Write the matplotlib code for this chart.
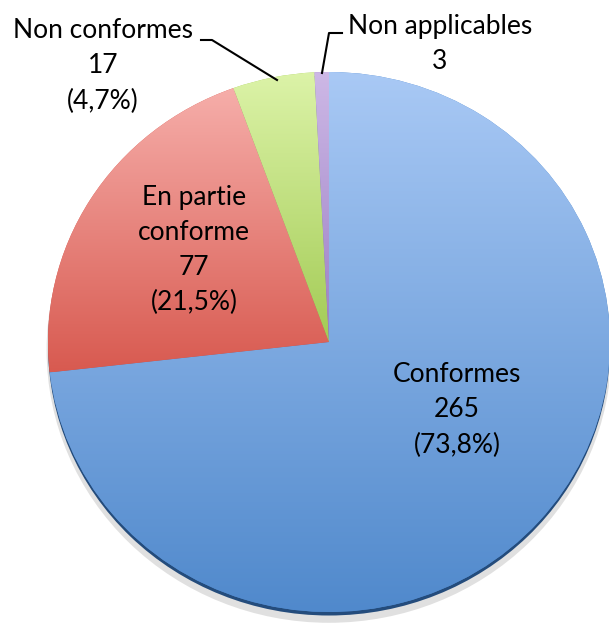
import numpy as np
import matplotlib
matplotlib.use('Agg')
import matplotlib.pyplot as plt
from matplotlib.colors import LinearSegmentedColormap
from matplotlib.patches import Ellipse

# Données
categories = ['Conformes', 'En partie\nconforme', 'Non conformes', 'Non applicables']
valeurs = [265, 77, 17, 3]
pourcentages = ['(73,8%)', '(21,5%)', '(4,7%)', None]

# Dégradés (haut clair -> bas foncé) pour chaque part
couleurs = [('#a9c9f5', '#5089cc'),
            ('#f6aeaa', '#d85a50'),
            ('#dcf3a8', '#a3cb55'),
            ('#cdb8e6', '#9b7fc4')]

W, H = 609, 623
plt.rcParams['font.family'] = ['Lato', 'DejaVu Sans']

fig = plt.figure(figsize=(W / 100, H / 100), dpi=100)
ax = fig.add_axes([0, 0, 1, 1])

# centre et rayons du camembert en pixels (légèrement elliptique)
cx, cy, rx, ry = 329, 342, 281, 270

wedges, _ = ax.pie(valeurs, startangle=90, counterclock=False, radius=1,
                   wedgeprops=dict(linewidth=0), colors=[c[1] for c in couleurs])

for w, (clair, fonce) in zip(wedges, couleurs):
    w.set_zorder(2)
    ext = w.get_path().get_extents()
    cmap = LinearSegmentedColormap.from_list('g', [fonce, clair])
    im = ax.imshow(np.linspace(0, 1, 256).reshape(-1, 1), cmap=cmap, origin='lower',
                   extent=[ext.x0, ext.x1, ext.y0, ext.y1], aspect='auto', zorder=3)
    im.set_clip_path(w)

# ombre
ax.add_patch(Ellipse((0.0, -0.03), 2.01, 2.02, color='#999999', alpha=0.3, lw=0, zorder=0))
ax.add_patch(Ellipse((0.0, -0.013), 2.0, 2.0, color='#244c7c', lw=0, zorder=1))

ax.set_xlim(-cx / rx, (W - cx) / rx)
ax.set_ylim(-(H - cy) / ry, cy / ry)
ax.set_aspect('auto')
ax.axis('off')


def px(x, y):
    return x / W, 1 - y / H


txt = dict(transform=ax.transAxes, ha='center', va='center', fontsize=19,
           linespacing=1.5, color='black', zorder=5)

ax.text(*px(457, 410), f"{categories[0]}\n{valeurs[0]}\n{pourcentages[0]}", **txt)
ax.text(*px(194, 250), f"{categories[1]}\n{valeurs[1]}\n{pourcentages[1]}", **txt)
ax.text(*px(103, 66), f"{categories[2]}\n{valeurs[2]}\n{pourcentages[2]}", **txt)
ax.text(*px(440, 44), f"{categories[3]}\n{valeurs[3]}", **txt)

# traits de rappel
for pts in ([(201, 40), (212, 40), (277, 80)], [(342, 33), (329, 33), (322, 73)]):
    xs, ys = zip(*[px(*p) for p in pts])
    ax.plot(xs, ys, color='black', lw=1.5, transform=ax.transAxes, zorder=5)

fig.savefig('out.png', dpi=100)
